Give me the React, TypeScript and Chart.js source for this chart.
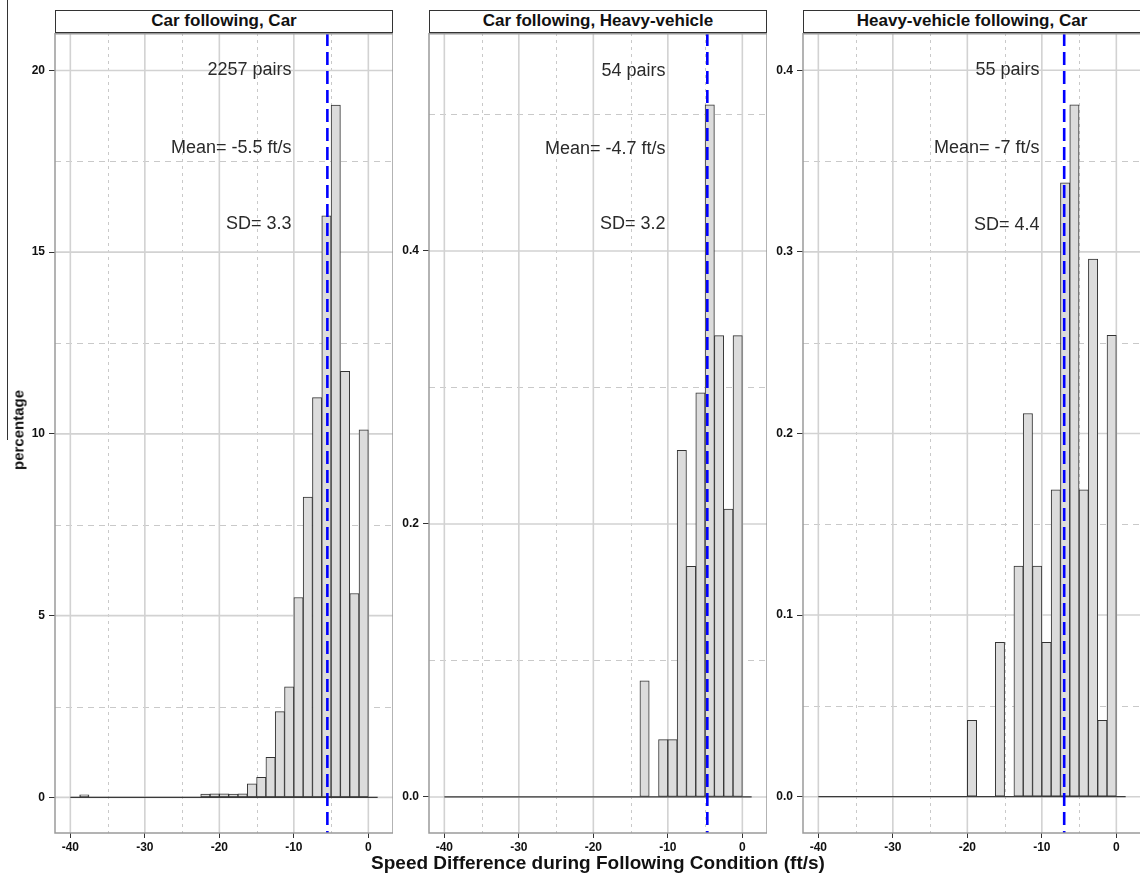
import React, { useEffect, useRef } from "react";
import { Chart, registerables } from "chart.js";

Chart.register(...registerables);

// ---------------- DATA ----------------
const PANEL_TITLES = [
  "Car following, Car",
  "Car following, Heavy-vehicle",
  "Heavy-vehicle following, Car",
];
const X_TITLE = "Speed Difference during Following Condition (ft/s)";
const Y_TITLE = "percentage";

const X_MIN = -42.06;
const X_MAX = 3.31;
const X_TICKS = [-40, -30, -20, -10, 0];
const X_MINOR = [-35, -25, -15, -5];
const BASELINE_X = [-40, 1.25]; // histogram range (zero-height bins)

// bin centres (bin width 1.25 ft/s) and heights
const carCarBins = [-38.125, -21.875, -20.625, -19.375, -18.125, -16.875, -15.625, -14.375, -13.125, -11.875, -10.625, -9.375, -8.125, -6.875, -5.625, -4.375, -3.125, -1.875, -0.625];
const carCarPct = [0.07, 0.09, 0.1, 0.1, 0.09, 0.1, 0.37, 0.55, 1.1, 2.36, 3.04, 5.5, 8.26, 11.0, 16.0, 19.05, 11.72, 5.61, 10.11];

const carHvBins = [-13.125, -10.625, -9.375, -8.125, -6.875, -5.625, -4.375, -3.125, -1.875, -0.625];
const carHvPct = [0.085, 0.042, 0.042, 0.254, 0.169, 0.296, 0.507, 0.338, 0.211, 0.338];

const hvCarBins = [-19.375, -15.625, -13.125, -11.875, -10.625, -9.375, -8.125, -6.875, -5.625, -4.375, -3.125, -1.875, -0.625];
const hvCarPct = [0.042, 0.085, 0.127, 0.211, 0.127, 0.085, 0.169, 0.338, 0.381, 0.169, 0.296, 0.042, 0.254];

const MEANS = [-5.5, -4.7, -7];
const PAIR_LABELS = ["2257 pairs", "54 pairs", "55 pairs"];
const MEAN_LABELS = ["Mean= -5.5 ft/s", "Mean= -4.7 ft/s", "Mean= -7 ft/s"];
const SD_LABELS = ["SD= 3.3", "SD= 3.2", "SD= 4.4"];
const ANNOT_X = -10.3;
const carCarAnnotY = [20, 17.86, 15.77];
const carHvAnnotY = [0.532, 0.475, 0.42];
const hvCarAnnotY = [0.4, 0.357, 0.315];

const carCarYRange = [-0.98, 21.03];
const carHvYRange = [-0.0264, 0.5597];
const hvCarYRange = [-0.02, 0.4205];

const carCarYTicks = [0, 5, 10, 15, 20];
const carCarYMinor = [2.5, 7.5, 12.5, 17.5];
const carHvYTicks = [0, 0.2, 0.4];
const carHvYMinor = [0.1, 0.3, 0.5];
const hvCarYTicks = [0, 0.1, 0.2, 0.3, 0.4];
const hvCarYMinor = [0.05, 0.15, 0.25, 0.35];

const PANELS = [
  { bins: carCarBins, values: carCarPct, annotY: carCarAnnotY, yRange: carCarYRange, yTicks: carCarYTicks, yMinor: carCarYMinor, decimals: 0 },
  { bins: carHvBins, values: carHvPct, annotY: carHvAnnotY, yRange: carHvYRange, yTicks: carHvYTicks, yMinor: carHvYMinor, decimals: 1 },
  { bins: hvCarBins, values: hvCarPct, annotY: hvCarAnnotY, yRange: hvCarYRange, yTicks: hvCarYTicks, yMinor: hvCarYMinor, decimals: 1 },
];

// ---------------- LAYOUT ----------------
const FONT = "'Liberation Sans', Arial, Helvetica, sans-serif";
const PLOT_TOP = 33;
const PLOT_BOTTOM = 833;
const X_AXIS_H = 41;
const PLOT_W = 338;
const LAYOUT = [
  { canvasLeft: 0, yAxisW: 55 },
  { canvasLeft: 392, yAxisW: 37 },
  { canvasLeft: 767, yAxisW: 36 },
];

function Panel({ idx }: { idx: number }) {
  const ref = useRef<HTMLCanvasElement | null>(null);
  const p = PANELS[idx];
  const lay = LAYOUT[idx];
  useEffect(() => {
    const canvas = ref.current;
    if (!canvas) return;
    const decor = {
      id: "decor" + idx,
      beforeDatasetsDraw(chart: any) {
        const { ctx, chartArea: a, scales } = chart;
        const x = scales.x;
        const y = scales.y;
        ctx.save();
        ctx.beginPath();
        ctx.rect(a.left, a.top, a.right - a.left, a.bottom - a.top);
        ctx.clip();
        // minor grid (dashed)
        ctx.strokeStyle = "#c9c9c9";
        ctx.lineWidth = 1;
        ctx.setLineDash([3, 4]);
        X_MINOR.forEach((v) => {
          const px = Math.round(x.getPixelForValue(v)) + 0.5;
          ctx.beginPath();
          ctx.moveTo(px, a.top);
          ctx.lineTo(px, a.bottom);
          ctx.stroke();
        });
        ctx.setLineDash([6, 5]);
        p.yMinor.forEach((v) => {
          const py = Math.round(y.getPixelForValue(v)) + 0.5;
          ctx.beginPath();
          ctx.moveTo(a.left, py);
          ctx.lineTo(a.right, py);
          ctx.stroke();
        });
        // major grid (solid)
        ctx.setLineDash([]);
        ctx.strokeStyle = "#d2d2d2";
        ctx.lineWidth = 1.6;
        X_TICKS.forEach((v) => {
          const px = x.getPixelForValue(v);
          ctx.beginPath();
          ctx.moveTo(px, a.top);
          ctx.lineTo(px, a.bottom);
          ctx.stroke();
        });
        p.yTicks.forEach((v) => {
          const py = y.getPixelForValue(v);
          ctx.beginPath();
          ctx.moveTo(a.left, py);
          ctx.lineTo(a.right, py);
          ctx.stroke();
        });
        ctx.restore();
      },
      afterDatasetsDraw(chart: any) {
        const { ctx, chartArea: a, scales } = chart;
        const x = scales.x;
        const y = scales.y;
        ctx.save();
        // mean line
        const mx = x.getPixelForValue(MEANS[idx]);
        ctx.strokeStyle = "#0000ff";
        ctx.lineWidth = 2.6;
        ctx.setLineDash([13, 6]);
        ctx.beginPath();
        ctx.moveTo(mx, a.top);
        ctx.lineTo(mx, a.bottom);
        ctx.stroke();
        ctx.setLineDash([]);
        // annotations
        ctx.fillStyle = "#2a2a2a";
        ctx.font = `18px ${FONT}`;
        ctx.textAlign = "right";
        ctx.textBaseline = "middle";
        const labels = [PAIR_LABELS[idx], MEAN_LABELS[idx], SD_LABELS[idx]];
        labels.forEach((t, i) => {
          ctx.fillText(t, x.getPixelForValue(ANNOT_X), y.getPixelForValue(p.annotY[i]));
        });
        // panel border
        ctx.strokeStyle = "#9a9a9a";
        ctx.lineWidth = 1.5;
        ctx.strokeRect(a.left, a.top + 0.75, a.right - a.left, a.bottom - a.top - 0.75);
        ctx.restore();
      },
    };

    const chart = new Chart(canvas, {
      type: "bar",
      data: {
        datasets: [
          {
            type: "line",
            data: BASELINE_X.map((v) => ({ x: v, y: 0 })),
            borderColor: "#3a3a3a",
            borderWidth: 1.2,
            pointRadius: 0,
            fill: false,
          } as any,
          {
            type: "bar",
            data: p.bins.map((b, i) => ({ x: b, y: p.values[i] })),
            backgroundColor: "#dcdcdc",
            borderColor: "#333333",
            borderWidth: 1,
            borderSkipped: false,
            barPercentage: 1,
            categoryPercentage: 1,
          } as any,
        ],
      },
      options: {
        responsive: false,
        animation: false,
        events: [],
        layout: { padding: 0 },
        plugins: { legend: { display: false }, tooltip: { enabled: false }, title: { display: false } },
        scales: {
          x: {
            type: "linear",
            min: X_MIN,
            max: X_MAX,
            offset: false,
            afterBuildTicks: (s: any) => {
              s.ticks = X_TICKS.map((v) => ({ value: v }));
            },
            afterFit: (s: any) => {
              s.height = X_AXIS_H;
              s.paddingLeft = 0;
              s.paddingRight = 0;
            },
            grid: { drawOnChartArea: false, drawTicks: true, tickLength: 5, tickColor: "#333", tickWidth: 1, offset: false },
            border: { display: false },
            ticks: {
              maxRotation: 0,
              autoSkip: false,
              padding: 2,
              color: "#111",
              font: { family: FONT, size: 12, weight: "bold" },
              callback: (v: any) => String(v),
            },
          },
          y: {
            type: "linear",
            min: p.yRange[0],
            max: p.yRange[1],
            afterBuildTicks: (s: any) => {
              s.ticks = p.yTicks.map((v) => ({ value: v }));
            },
            afterFit: (s: any) => {
              s.width = lay.yAxisW;
              s.paddingTop = 0;
              s.paddingBottom = 0;
            },
            grid: { drawOnChartArea: false, drawTicks: true, tickLength: 6, tickColor: "#333", tickWidth: 1 },
            border: { display: false },
            ticks: {
              autoSkip: false,
              padding: 4,
              color: "#111",
              font: { family: FONT, size: 12, weight: "bold" },
              callback: (v: any) => Number(v).toFixed(p.decimals),
            },
          },
        },
      } as any,
      plugins: [decor],
    });
    return () => chart.destroy();
  }, []);

  const width = lay.yAxisW + PLOT_W;
  const height = PLOT_BOTTOM - PLOT_TOP + X_AXIS_H;
  return (
    <>
      <canvas
        ref={ref}
        width={width}
        height={height}
        style={{ position: "absolute", left: lay.canvasLeft, top: PLOT_TOP, width, height }}
      />
      <div
        style={{
          position: "absolute",
          left: lay.canvasLeft + lay.yAxisW,
          top: 10,
          width: PLOT_W,
          height: 23,
          boxSizing: "border-box",
          border: "1.5px solid #333",
          background: "#fff",
          font: `bold 17px ${FONT}`,
          color: "#111",
          textAlign: "center",
          lineHeight: "20px",
          whiteSpace: "nowrap",
        }}
      >
        {PANEL_TITLES[idx]}
      </div>
    </>
  );
}

export default function App() {
  return (
    <div
      style={{
        position: "absolute",
        left: 0,
        top: 0,
        width: 1140,
        height: 874,
        overflow: "hidden",
        background: "#fff",
      }}
    >
      <div style={{ position: "absolute", left: 7, top: 0, width: 1, height: 440, background: "#333" }} />
      {PANELS.map((_, i) => (
        <Panel key={i} idx={i} />
      ))}
      <div
        style={{
          position: "absolute",
          left: 0,
          width: 1196,
          top: 852,
          textAlign: "center",
          font: `bold 19px ${FONT}`,
          color: "#111",
          whiteSpace: "nowrap",
        }}
      >
        {X_TITLE}
      </div>
      <div
        style={{
          position: "absolute",
          left: 18,
          top: 430,
          transform: "translate(-50%, -50%) rotate(-90deg)",
          font: `bold 15px ${FONT}`,
          color: "#111",
          whiteSpace: "nowrap",
        }}
      >
        {Y_TITLE}
      </div>
    </div>
  );
}
